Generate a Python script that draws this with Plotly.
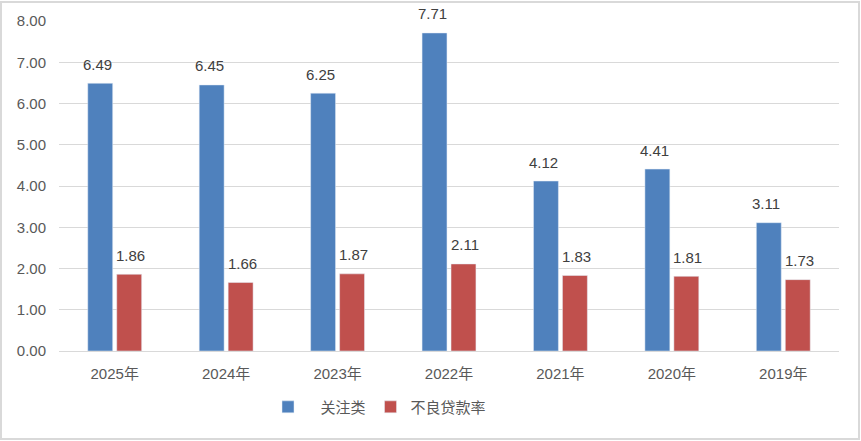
import plotly.graph_objects as go

years = ["2025年", "2024年", "2023年", "2022年", "2021年", "2020年", "2019年"]
guanzhu = [6.49, 6.45, 6.25, 7.71, 4.12, 4.41, 3.11]
buliang = [1.86, 1.66, 1.87, 2.11, 1.83, 1.81, 1.73]

blue = "#4F81BD"
red = "#C0504D"
font_family = "Liberation Sans, Noto Sans CJK SC"

fig = go.Figure()
fig.add_trace(go.Bar(x=years, y=guanzhu, name="\u00a0\u00a0\u00a0关注类", marker_color=blue))
fig.add_trace(go.Bar(x=years, y=buliang, name="不良贷款率", marker_color=red))

# value labels above each bar
for yr, a, b in zip(years, guanzhu, buliang):
    fig.add_annotation(x=yr, y=a, text=f"{a:.2f}", showarrow=False,
                       xshift=-17, yshift=19, font=dict(size=15, color="#404040"))
    fig.add_annotation(x=yr, y=b, text=f"{b:.2f}", showarrow=False,
                       xshift=16, yshift=19, font=dict(size=15, color="#404040"))

# outer chart border
W, H = 861, 441
ml, mr, mt, mb = 59, 22, 21, 90
pw, ph = W - ml - mr, H - mt - mb
fig.add_shape(type="rect", xref="paper", yref="paper",
              x0=(1 - ml) / pw, x1=1 + (mr - 2) / pw,
              y0=-(mb - 2) / ph, y1=1 + (mt - 2) / ph,
              line=dict(color="#D9D9D9", width=2))

fig.update_layout(
    width=W, height=H,
    margin=dict(l=ml, r=mr, t=mt, b=mb),
    paper_bgcolor="white", plot_bgcolor="white",
    font=dict(family=font_family, size=15, color="#595959"),
    barmode="group", bargap=0.48, bargroupgap=0.14,
    showlegend=True,
    legend=dict(orientation="h", x=(268 - ml) / pw, xanchor="left", y=-0.12, yanchor="top",
                font=dict(size=15, color="#595959"), itemwidth=30,
                bgcolor="rgba(0,0,0,0)", traceorder="normal"),
    xaxis=dict(showline=False, ticks="", tickfont=dict(size=15),
               automargin=False, ticklabelstandoff=12),
    yaxis=dict(range=[0, 8], dtick=1, tickformat=".2f", showgrid=True,
               gridcolor="#D9D9D9", gridwidth=1, zeroline=True,
               zerolinecolor="#D9D9D9", zerolinewidth=1, ticks="",
               tickfont=dict(size=15), automargin=False, ticklabelstandoff=12),
)

fig.write_html("out.html", config={"displayModeBar": False},
               post_script="document.body.style.margin='0';")
